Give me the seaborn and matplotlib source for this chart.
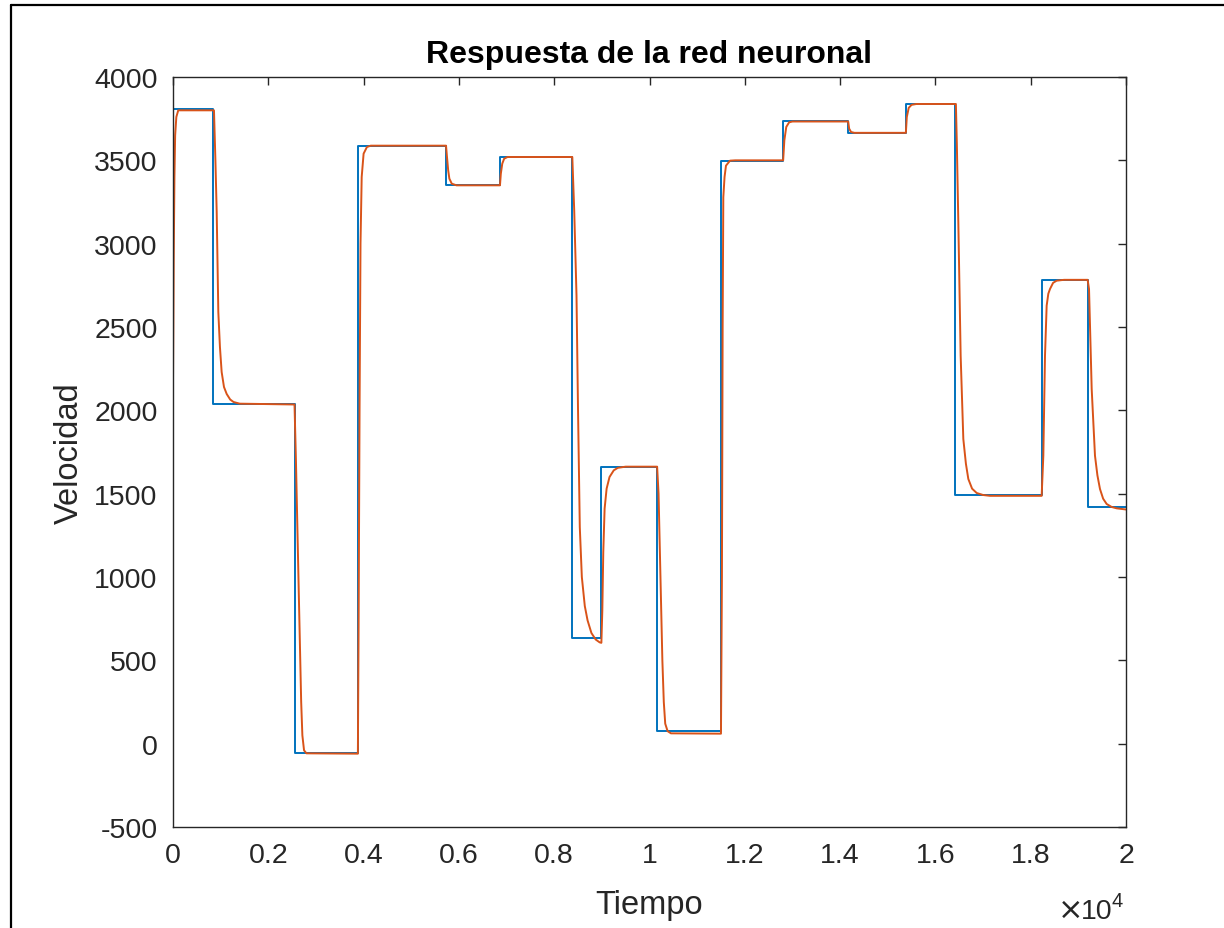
import pandas as pd
import matplotlib
matplotlib.use('Agg')
from matplotlib import pyplot as plt
from matplotlib.lines import Line2D
from matplotlib.ticker import FuncFormatter
import seaborn as sns

# Reference speed (blue): step changes, value holds until next time
ref_t = [0, 846, 2550, 3880, 5725, 6862, 8380, 8990, 10155, 11500,
         12805, 14170, 15380, 16420, 18230, 19195, 20000]
ref_v = [3805, 2035, -55, 3588, 3350, 3520, 632, 1662, 75, 3495,
         3733, 3665, 3835, 1492, 2783, 1418, 1418]

# Network response (orange)
net_t = [0, 15, 30, 45, 70, 110,
         860, 890, 917, 951, 985, 1021, 1070, 1127, 1200, 1270, 1400, 2550,
         2580, 2640, 2690, 2715, 2750, 2800, 3880,
         3895, 3915, 3935, 3960, 4000, 4070, 4150, 5730,
         5750, 5775, 5800, 5850, 5950, 6862,
         6880, 6910, 6950, 7020, 8380,
         8420, 8468, 8500, 8537, 8580, 8642, 8700, 8781, 8870, 8953, 8990,
         9010, 9030, 9058, 9100, 9161, 9250, 9335, 9500, 10160,
         10190, 10230, 10270, 10300, 10330, 10380, 10450, 11500,
         11520, 11535, 11549, 11575, 11605, 11689, 11800, 12805,
         12830, 12870, 12930, 13000, 14170,
         14190, 14230, 14300, 15380,
         15400, 15440, 15500, 15600, 16430,
         16450, 16481, 16530, 16586, 16640, 16691, 16770, 16867, 17000, 17146, 18230,
         18265, 18300, 18335, 18370, 18405, 18470, 18545, 18700, 19195,
         19224, 19250, 19280, 19349, 19400, 19454, 19520, 19594, 19700, 19804, 20000]
net_v = [2170, 2900, 3400, 3650, 3760, 3800,
         3800, 3500, 3190, 2590, 2380, 2230, 2140, 2098, 2065, 2050, 2040, 2035,
         1700, 900, 250, 50, -40, -58, -60,
         700, 2000, 3000, 3400, 3540, 3580, 3588, 3588,
         3520, 3440, 3390, 3360, 3350, 3350,
         3420, 3480, 3510, 3520, 3520,
         3200, 2690, 2000, 1300, 1000, 826, 740, 664, 625, 608, 605,
         800, 1150, 1410, 1530, 1600, 1640, 1655, 1662, 1662,
         1500, 1000, 500, 250, 120, 75, 62, 60,
         1000, 2500, 3278, 3400, 3468, 3498, 3500, 3500,
         3620, 3700, 3728, 3733, 3733,
         3690, 3670, 3665, 3665,
         3760, 3815, 3833, 3838, 3838,
         3600, 3128, 2328, 1828, 1680, 1588, 1530, 1504, 1492, 1487, 1487,
         1728, 2328, 2628, 2700, 2728, 2765, 2778, 2783, 2783,
         2728, 2450, 2128, 1728, 1610, 1528, 1470, 1438, 1420, 1412, 1405]

ref = pd.DataFrame({'t': ref_t, 'v': ref_v})
net = pd.DataFrame({'t': net_t, 'v': net_v})

sns.set_style('white')
plt.rcParams['font.family'] = ['Liberation Sans', 'DejaVu Sans']
plt.rcParams['axes.unicode_minus'] = False

fig = plt.figure(figsize=(12.24, 9.29), dpi=100)
ax = fig.add_axes([173 / 1224, 1 - 828 / 929, 953 / 1224, 750 / 929])

sns.lineplot(data=ref, x='t', y='v', ax=ax, color='#0072BD', linewidth=1.4,
             drawstyle='steps-post', estimator=None, sort=False)
sns.lineplot(data=net, x='t', y='v', ax=ax, color='#D95319', linewidth=1.4,
             estimator=None, sort=False)

ax.set_xlim(0, 20000)
ax.set_ylim(-500, 4000)
ax.set_xticks([i * 2000 for i in range(11)])
ax.set_yticks(range(-500, 4001, 500))
ax.xaxis.set_major_formatter(FuncFormatter(lambda x, p: '%g' % (x / 10000)))

dark = '#262626'
for s in ax.spines.values():
    s.set_visible(True)
    s.set_color(dark)
    s.set_linewidth(1.0)
ax.tick_params(direction='in', length=6, width=1.0, color=dark,
               top=True, right=True, labelsize=20.5, labelcolor=dark)
ax.tick_params(axis='x', pad=11)
ax.tick_params(axis='y', pad=11)

ax.set_title('Respuesta de la red neuronal', fontsize=23, fontweight='bold',
             color='black', pad=11)
ax.set_xlabel('Tiempo', fontsize=23.5, color=dark)
ax.set_ylabel('Velocidad', fontsize=23.5, color=dark)
ax.xaxis.set_label_coords(0.5, -0.083)
ax.yaxis.set_label_coords(-0.093, 0.5)

# x10^4 exponent label
fig.text(1058 / 1224, 1 - 919 / 929, '\u00d7', family='DejaVu Sans',
         fontsize=22, color=dark, ha='left', va='baseline')
fig.text(1081 / 1224, 1 - 919 / 929, '10', fontsize=20.5, color=dark,
         ha='left', va='baseline')
fig.text(1112 / 1224, 1 - 907 / 929, '4', fontsize=14.5, color=dark,
         ha='left', va='baseline')

# screenshot frame
fig.add_artist(Line2D([11 / 1224, 11 / 1224], [0, 1 - 6 / 929],
                      transform=fig.transFigure, color='black', linewidth=1.6))
fig.add_artist(Line2D([11 / 1224, 1], [1 - 6 / 929, 1 - 6 / 929],
                      transform=fig.transFigure, color='black', linewidth=1.6))

fig.savefig('out.png', dpi=100)
